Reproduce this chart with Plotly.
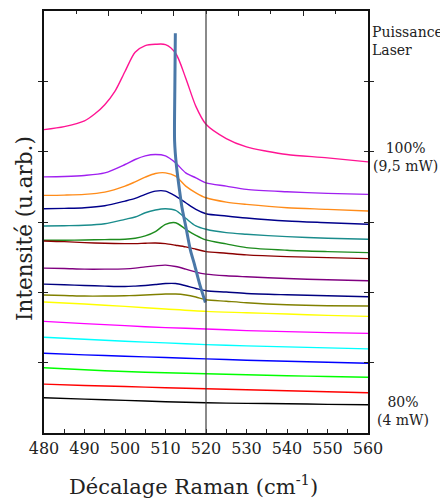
import plotly.graph_objects as go

# Raman shift grids (cm-1)
x_pink = [480, 485, 490, 492.5, 495, 497.5, 500, 502.5, 505, 507.5, 510, 512.5, 515, 517.5, 520, 525, 530, 535, 540, 550, 560]
x_mid = [480, 485, 490, 495, 500, 502.5, 505, 507.5, 510, 512.5, 515, 517.5, 520, 525, 530, 540, 550, 560]
x_flat = [480, 490, 500, 510, 520, 530, 540, 550, 560]

# Intensities (arbitrary units, stacked)
pink = [304.4, 307.4, 313.2, 320, 329.4, 342.7, 362.7, 382, 388.7, 390, 389.7, 381, 356, 327.7, 309.7, 295.4, 287, 282.7, 279.4, 276, 272]
violet = [257, 257.4, 258.4, 261, 269.4, 274.4, 278, 279.4, 278, 271, 261, 256, 251, 247.7, 244.4, 242, 240.4, 239.4]
orange = [238.4, 238.7, 239.4, 241.7, 247.7, 252, 256.7, 260.4, 261, 257.7, 247.7, 241, 236, 231.7, 229.4, 226, 224.4, 222.7]
navy = [225, 225.4, 226, 228, 232.7, 235.4, 239.4, 242.7, 242.7, 237.7, 231, 224.4, 220, 217.7, 215.7, 212.7, 211, 209.4]
teal = [207.7, 208, 208.4, 210, 214.4, 216.7, 221, 223.7, 225, 223.4, 215.4, 207.7, 204.4, 201, 199.4, 197, 195.4, 194.4]
green = [193.4, 193.4, 193.7, 194, 194.4, 195.4, 197.7, 202, 209.4, 211, 204.4, 198.4, 193.7, 189.7, 186, 183.4, 182, 181]
maroon = [192.7, 192, 191, 190.4, 190, 190, 190.4, 190.7, 190, 188.4, 186.7, 184.4, 182, 180.4, 178.7, 177, 176, 175]
purple = [165.4, 165, 164.4, 164.4, 164.7, 165.4, 166.7, 167.7, 168.4, 167, 164.4, 161.4, 159.4, 157.7, 156.7, 155, 153.7, 152.7]
navy2 = [149.4, 148.7, 148, 147.4, 147, 147.4, 148, 149, 150, 150, 147.7, 145, 142.7, 141.4, 140, 138.7, 137.7, 136.7]
olive = [138.4, 138, 137.4, 137.4, 137.7, 138, 138.4, 139, 139.4, 139.4, 138.4, 136.4, 133.7, 132.2, 130.7, 128.7, 127.7, 127.4]
yellow = [131.4, 129.4, 127, 124.4, 122, 120.7, 119.4, 118, 117]
magenta = [112, 109.7, 107.7, 105.7, 104.4, 102.7, 101.7, 100.7, 100]
cyan = [96, 94, 92, 90.4, 88.7, 87.4, 86.4, 85.4, 84.4]
blue = [80, 78.4, 77, 75.7, 74.4, 73, 72, 71, 70]
lime = [65.4, 63.4, 61.7, 60.4, 59.4, 58.4, 57.4, 56.7, 56]
red = [49, 47.7, 46.7, 45.4, 44.4, 43.4, 42.4, 41.4, 40.4]
black = [35.4, 34, 32.7, 31.4, 30.4, 29.7, 29.4, 28.7, 28.4]

# Peak position trend line
trend_x = [512.43, 512.3, 512.25, 512.67, 513.49, 514.08, 515.07, 516.2, 517.13, 518.44, 519.85]
trend_y = [401, 342.7, 292.7, 269.4, 242.7, 226, 206, 182.7, 169.4, 149.4, 131]

y_ticks = [70.6, 141.1, 211.7, 282.3, 352.8]

series = [
    (x_pink, pink, "#FF1493"),
    (x_mid, violet, "#A020F0"),
    (x_mid, orange, "#FF8C1A"),
    (x_mid, navy, "#00008B"),
    (x_mid, teal, "#1A8C8C"),
    (x_mid, green, "#1E8C1E"),
    (x_mid, maroon, "#8B0000"),
    (x_mid, purple, "#800080"),
    (x_mid, navy2, "#000080"),
    (x_mid, olive, "#808000"),
    (x_flat, yellow, "#FFFF00"),
    (x_flat, magenta, "#FF00FF"),
    (x_flat, cyan, "#00FFFF"),
    (x_flat, blue, "#0000FF"),
    (x_flat, lime, "#00FF00"),
    (x_flat, red, "#FF0000"),
    (x_flat, black, "#000000"),
]

fig = go.Figure()
for xs, ys, col in series:
    fig.add_trace(go.Scatter(x=xs, y=ys, mode="lines",
                             line=dict(color=col, width=1.4, shape="spline", smoothing=0.8),
                             showlegend=False, hoverinfo="skip"))

fig.add_trace(go.Scatter(x=trend_x, y=trend_y, mode="lines",
                         line=dict(color="#4A78A8", width=3, shape="spline", smoothing=0.8),
                         showlegend=False, hoverinfo="skip"))

# invisible trace to activate the top tick axis
fig.add_trace(go.Scatter(x=[480, 560], y=[0, 0], xaxis="x2", mode="lines",
                         line=dict(width=0, color="rgba(0,0,0,0)"),
                         showlegend=False, hoverinfo="skip"))

fig.add_shape(type="line", x0=520, x1=520, y0=0, y1=1, xref="x", yref="paper",
              line=dict(color="#3C3C3C", width=1.2))

font_family = "DejaVu Serif"
txt_color = "#222"

fig.add_annotation(x=1.0, y=393, xref="paper", yref="y", text="Puissance<br>Laser",
                   showarrow=False, xanchor="left", yanchor="middle", align="left",
                   xshift=2, font=dict(family=font_family, size=14, color=txt_color))
fig.add_annotation(x=1.0, y=277, xref="paper", yref="y", text="100%<br>(9,5 mW)",
                   showarrow=False, xanchor="left", yanchor="middle", align="center",
                   xshift=3, font=dict(family=font_family, size=14, color=txt_color))
fig.add_annotation(x=1.0, y=22, xref="paper", yref="y", text="80%<br>(4 mW)",
                   showarrow=False, xanchor="left", yanchor="middle", align="center",
                   xshift=7, font=dict(family=font_family, size=14, color=txt_color))

# axis titles
fig.add_annotation(x=0.46, y=0, xref="paper", yref="paper",
                   text="Décalage Raman (cm<sup>-1</sup>)", showarrow=False,
                   xanchor="center", yanchor="middle", yshift=-52,
                   font=dict(family=font_family, size=21, color=txt_color))
fig.add_annotation(x=0, y=0.4835, xref="paper", yref="paper",
                   text="Intensité (u.arb.)", showarrow=False, textangle=-90,
                   xanchor="center", yanchor="middle", xshift=-19,
                   font=dict(family=font_family, size=21.5, color=txt_color))

# page body has an 8px default margin: size/offset figure to compensate
fig.update_layout(
    width=440, height=490,
    margin=dict(l=36, r=80, t=1, b=65),
    paper_bgcolor="white", plot_bgcolor="white",
    font=dict(family=font_family, color=txt_color),
    xaxis=dict(range=[480, 560], dtick=10, tick0=480, ticks="inside", ticklen=4,
               tickwidth=1.2, tickcolor="#222", showline=True, linecolor="#111",
               linewidth=1.5, mirror=True, showgrid=False, zeroline=False,
               tickfont=dict(size=16, family=font_family),
               minor=dict(dtick=5, ticks="inside", ticklen=4, tickcolor="#222")),
    xaxis2=dict(range=[480, 560], overlaying="x", side="top", tick0=480, dtick=16,
                ticks="inside", ticklen=5, tickwidth=1.2, tickcolor="#222",
                showticklabels=False, showline=False, showgrid=False, zeroline=False,
                minor=dict(dtick=8, ticks="inside", ticklen=3, tickcolor="#222")),
    yaxis=dict(range=[0, 423.4], tickvals=y_ticks, showticklabels=False,
               ticks="inside", ticklen=4, tickwidth=1.2, tickcolor="#222",
               showline=True, linecolor="#111", linewidth=1.5, mirror="allticks",
               showgrid=False, zeroline=False),
)

fig.write_html("out.html")
